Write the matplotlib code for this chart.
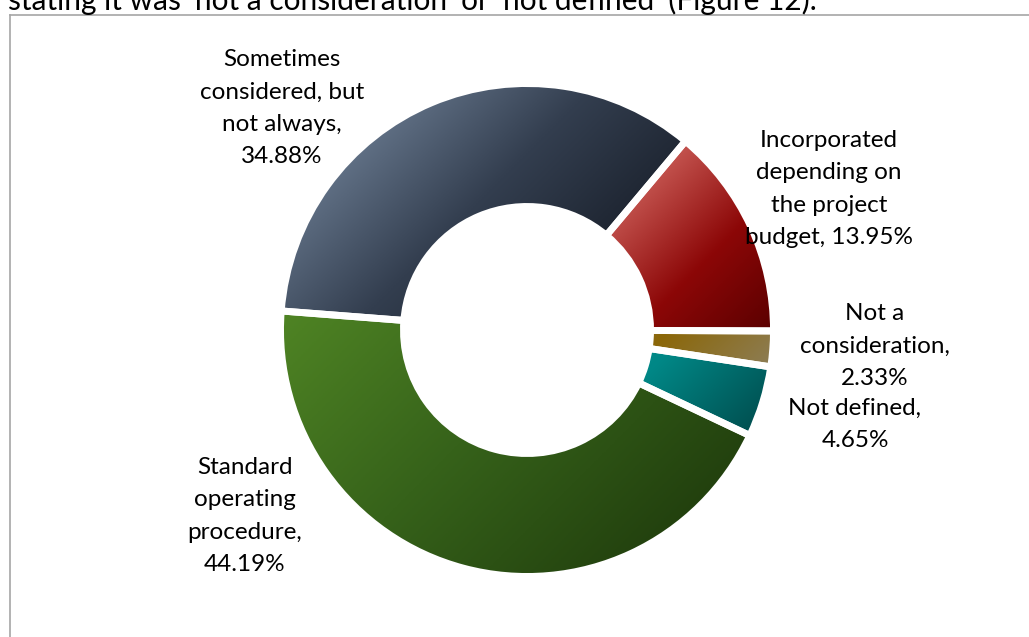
import numpy as np
import matplotlib
matplotlib.use("Agg")
import matplotlib.pyplot as plt
from matplotlib.colors import LinearSegmentedColormap
from matplotlib.lines import Line2D

# ---- data -------------------------------------------------------------
categories = [
    "Incorporated\ndepending on\nthe project\nbudget",
    "Not a\nconsideration",
    "Not defined",
    "Standard\noperating\nprocedure",
    "Sometimes\nconsidered, but\nnot always",
]
shares = [13.95, 2.33, 4.65, 44.19, 34.88]
value_sep = [" ", "\n", "\n", "\n", "\n"]

# gradient stops per slice: light -> mid -> dark
slice_colors = [
    ["#c4544f", "#8c0707", "#5a0000"],
    ["#a08898", "#8b6708", "#8d7d55"],
    ["#16a09d", "#008786", "#004f50"],
    ["#4f8424", "#36621a", "#22400e"],
    ["#617186", "#333e4f", "#1d2430"],
]
stop_pos = [0.0, 0.5, 1.0]

# ---- layout (pixels) -------------------------------------------------
W_PX, H_PX = 1029, 637
DPI = 100
cx, cy = 527, 330
r_out, r_in = 246.5, 123.5
gap_lw = 5.0

label_pos = [(829, 189), (875, 346), (855, 424), (245, 516), (282, 108)]

plt.rcParams["font.family"] = ["Lato", "DejaVu Sans"]

fig = plt.figure(figsize=(W_PX / DPI, H_PX / DPI), dpi=DPI)
ax = fig.add_axes([0, 0, 1, 1])
ax.set_axis_off()


def fy(y):
    return H_PX - y


wedges, _ = ax.pie(
    shares,
    startangle=50,
    counterclock=False,
    radius=r_out,
    center=(cx, fy(cy)),
    wedgeprops=dict(width=r_out - r_in, edgecolor="white", linewidth=gap_lw),
)

# diagonal shading: light toward the upper left, dark toward the lower right
direction = np.array([1.0, -1.0]) / np.sqrt(2.0)
for w, cols in zip(wedges, slice_colors):
    w.set_facecolor("none")
    w.set_zorder(3)
    verts = w.get_path().vertices
    proj = verts @ direction
    p0, p1 = proj.min(), proj.max()
    x0, y0 = verts.min(axis=0)
    x1, y1 = verts.max(axis=0)
    xs = np.linspace(x0, x1, 240)
    ys = np.linspace(y0, y1, 240)
    X, Y = np.meshgrid(xs, ys)
    t = ((X * direction[0] + Y * direction[1]) - p0) / (p1 - p0)
    cmap = LinearSegmentedColormap.from_list("g", list(zip(stop_pos, cols)))
    im = ax.imshow(np.clip(t, 0, 1), cmap=cmap, vmin=0, vmax=1, origin="lower",
                   extent=(x0, x1, y0, y1), interpolation="bilinear", zorder=2)
    im.set_clip_path(w)

for cat, val, sep, (lx, ly) in zip(categories, shares, value_sep, label_pos):
    ax.text(lx, fy(ly), f"{cat},{sep}{val:.2f}%", ha="center", va="center",
            fontsize=17.5, color="black", linespacing=1.66, zorder=5)

# running text above the chart frame
ax.text(8, fy(10), "stating it was \u2018not a consideration\u2019 or \u2018not defined\u2019 (Figure 12).",
        ha="left", va="baseline", fontsize=21.5, color="black")

# chart frame
ax.add_line(Line2D([10, 10], [fy(15), fy(H_PX + 5)], color="#a6a6a6", lw=1.2))
ax.add_line(Line2D([10, W_PX + 5], [fy(15), fy(15)], color="#a6a6a6", lw=1.2))

ax.set_xlim(0, W_PX)
ax.set_ylim(0, H_PX)
ax.set_aspect("auto")

fig.savefig("out.png", dpi=DPI)
